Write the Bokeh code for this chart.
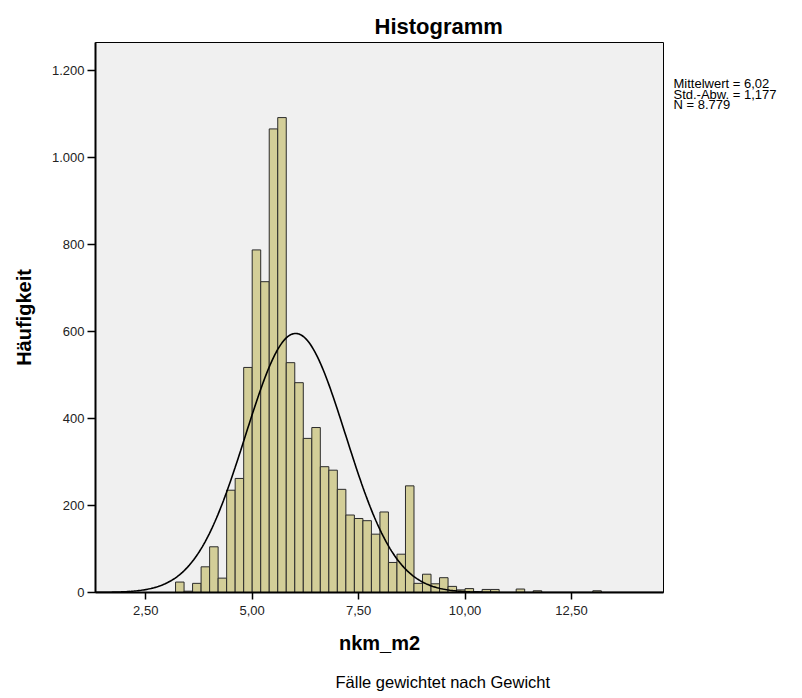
import numpy as np
from bokeh.plotting import figure
from bokeh.models import Range1d, FixedTicker, Title
from bokeh.layouts import row
from bokeh.embed import file_html
from bokeh.resources import INLINE

# ---- data ----
bin_start = 3.2
bin_width = 0.2
counts = [24, 3, 21, 59, 105, 33, 235, 262, 517, 787, 714, 1065, 1091, 528, 482,
          354, 379, 289, 281, 237, 178, 170, 165, 134, 185, 69, 88, 245, 21,
          42, 20, 34, 14, 6, 9, 2, 7, 7, 0, 0, 8, 0, 4, 0, 0, 0, 0, 0, 0, 4]

mean_value = 6.02
std_value = 1.177
n_value = 8779

x_ticks = [2.5, 5.0, 7.5, 10.0, 12.5]
x_tick_labels = ["2,50", "5,00", "7,50", "10,00", "12,50"]
y_ticks = [0, 200, 400, 600, 800, 1000, 1200]
y_tick_labels = ["0", "200", "400", "600", "800", "1.000", "1.200"]

stats_lines = ["Mittelwert = 6,02", "Std.-Abw. = 1,177", "N = 8.779"]
title_text = "Histogramm"
x_label = "nkm_m2"
y_label = "Häufigkeit"
footnote = "Fälle gewichtet nach Gewicht"

# ---- derived ----
lefts, rights, tops = [], [], []
for i, c in enumerate(counts):
    if c > 0:
        lefts.append(bin_start + i * bin_width)
        rights.append(bin_start + (i + 1) * bin_width)
        tops.append(c)

x_min, x_max = 1.32, 14.66
xs = np.linspace(x_min, x_max, 400)
ys = n_value * bin_width / (std_value * np.sqrt(2 * np.pi)) * np.exp(-0.5 * ((xs - mean_value) / std_value) ** 2)

FONT = "Liberation Sans"
TOP = 42
FRAME_H = 550
TOTAL_H = 698
BOTTOM = TOTAL_H - TOP - FRAME_H

p = figure(frame_width=568, frame_height=FRAME_H, height=TOTAL_H,
           min_border_left=95, min_border_right=2, min_border_top=TOP, min_border_bottom=BOTTOM,
           x_range=Range1d(x_min, x_max), y_range=Range1d(0, 1263.5),
           output_backend="svg", toolbar_location=None)

p.background_fill_color = "#F0F0F0"
p.border_fill_color = "white"
p.outline_line_color = "black"
p.outline_line_width = 1
p.xgrid.visible = False
p.ygrid.visible = False

p.title.text = title_text
p.title.align = "left"
p.title.offset = 279
p.title.standoff = 7
p.title.text_font = FONT
p.title.text_font_size = "22px"
p.title.text_font_style = "bold"
p.title.text_color = "black"

p.quad(left=lefts, right=rights, bottom=0, top=tops,
       fill_color="#D3CE98", line_color="#2b2b2b", line_width=1)
p.line(xs, ys, line_color="black", line_width=1.6)

for ax in (p.xaxis[0], p.yaxis[0]):
    ax.axis_line_width = 2
    ax.axis_line_color = "black"
    ax.major_tick_line_color = "black"
    ax.major_tick_line_width = 1.5
    ax.minor_tick_line_color = None
    ax.major_tick_in = 0
    ax.major_label_text_font = FONT
    ax.major_label_text_font_size = "13px"
    ax.major_label_text_color = "#222222"
    ax.axis_label_text_font = FONT
    ax.axis_label_text_font_size = "20px"
    ax.axis_label_text_font_style = "bold"
    ax.axis_label_text_color = "black"

p.xaxis.ticker = FixedTicker(ticks=x_ticks)
p.xaxis.major_label_overrides = {t: l for t, l in zip(x_ticks, x_tick_labels)}
p.xaxis.major_tick_out = 7
p.xaxis.major_label_standoff = 6
p.xaxis.axis_label = x_label
p.xaxis.axis_label_standoff = 14

p.yaxis.ticker = FixedTicker(ticks=y_ticks)
p.yaxis.major_label_overrides = {t: l for t, l in zip(y_ticks, y_tick_labels)}
p.yaxis.major_tick_out = 8
p.yaxis.major_label_standoff = 3
p.yaxis.axis_label = y_label
p.yaxis.axis_label_standoff = 14

p.add_layout(Title(text=footnote, align="left", offset=240, standoff=29,
                   text_font=FONT, text_font_size="16.5px", text_font_style="normal",
                   text_color="black"), "below")

# side panel with the summary statistics (y axis in page pixels, top = 0)
side_w = 130
s = figure(frame_width=side_w, frame_height=FRAME_H, height=TOTAL_H,
           min_border_left=0, min_border_right=0, min_border_top=TOP, min_border_bottom=BOTTOM,
           x_range=Range1d(0, side_w), y_range=Range1d(TOP + FRAME_H, TOP),
           output_backend="svg", toolbar_location=None)
s.axis.visible = False
s.grid.visible = False
s.outline_line_color = None
s.background_fill_color = "white"
s.border_fill_color = "white"
s.text(x=[8, 8, 8], y=[83, 93.5, 104], text=stats_lines,
       text_font_size="13px", text_align="left", text_baseline="middle",
       text_color="black", text_font={"value": FONT})

layout = row(p, s)
open("out.html", "w").write(file_html(layout, INLINE))
